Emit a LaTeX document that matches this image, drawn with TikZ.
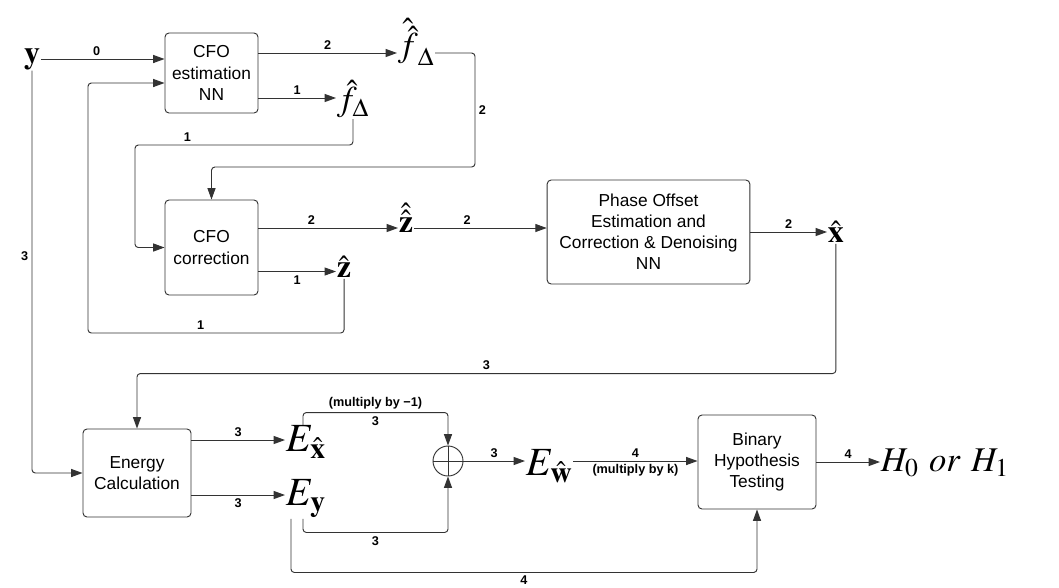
\documentclass[tikz,border=0pt]{standalone}
\usepackage{mathptmx}
\usepackage{fontspec}
\setsansfont{Liberation Sans}
\usetikzlibrary{arrows.meta,calc}

\tikzstyle{block}=[draw=black!80,line width=0.7pt,rounded corners=3pt,align=center,inner sep=2pt,font=\sffamily\fontsize{13}{15.8}\selectfont]
\tikzstyle{sym}=[inner sep=0.5pt,font=\fontsize{24}{28}\selectfont]
\tikzstyle{fsym}=[inner sep=0.5pt,font=\fontsize{26}{30}\selectfont]
\tikzstyle{bigsym}=[inner sep=0.5pt,font=\fontsize{30}{34}\selectfont]
\tikzstyle{lbl}=[inner sep=2.5pt,font=\sffamily\bfseries\fontsize{9.5}{11}\selectfont]
\tikzstyle{link}=[draw=black!80,line width=0.7pt,rounded corners=2.5pt]
\tikzstyle{arr}=[link,-{Triangle[length=8.5pt,width=6pt]}]

\begin{document}
\begin{tikzpicture}[x=0.75pt,y=-0.75pt]
    \useasboundingbox (0,0) rectangle (1059,587);

    % blocks
    \node[block,minimum width=69.75pt,minimum height=60pt] (est) at (211.5,73) {CFO\\estimation\\NN};
    \node[block,minimum width=69.75pt,minimum height=71.25pt] (corr) at (211.5,247.5) {CFO\\correction};
    \node[block,minimum width=152pt,minimum height=78pt] (phase) at (648.5,232) {Phase Offset\\Estimation and\\Correction \& Denoising\\NN};
    \node[block,minimum width=81pt,minimum height=66pt] (energy) at (137,473) {Energy\\Calculation};
    \node[block,minimum width=88.5pt,minimum height=70.5pt] (binary) at (757,462) {Binary\\Hypothesis\\Testing};
    \node[draw=black!80,line width=0.7pt,circle,minimum size=22.5pt,inner sep=0pt] (sum) at (448,461) {};
    \draw[link] (sum.north) -- (sum.south) (sum.west) -- (sum.east);

    % signals
    \node[sym] (y) at (32,59) {$\mathbf{y}$};
    \node[fsym,anchor=west] (ffh) at (397,42) {$\hat{\hat{f}}_{\Delta}$};
    \node[fsym,anchor=west] (fh) at (336,99) {$\hat{f}_{\Delta}$};
    \node[sym,anchor=west] (zzh) at (398,218) {$\hat{\hat{\mathbf{z}}}$};
    \node[sym,anchor=west] (zh) at (336,267) {$\hat{\mathbf{z}}$};
    \node[sym,anchor=west] (xh) at (827,232) {$\hat{\mathbf{x}}$};
    \node[bigsym,anchor=west] (Exh) at (285,442) {$E_{\hat{\mathbf{x}}}$};
    \node[bigsym,anchor=west] (Ey) at (285,499) {$E_{\mathbf{y}}$};
    \node[bigsym,anchor=west] (Ewh) at (525,466) {$E_{\hat{\mathbf{w}}}$};
    \node[sym,anchor=west,font=\fontsize{26}{30}\selectfont] (H) at (880,463) {$H_0\ \mathit{or}\ H_1$};

    % into CFO estimation
    \draw[arr] (y.east) -- node[lbl,above,pos=0.45]{0} (y.east -| est.west);
    \draw[arr] (zh.south) |- node[lbl,above,pos=0.78]{1} (88,333) |- ($(est.west)+(0,10)$);

    % CFO estimation outputs
    \draw[arr] ($(est.east)+(0,-20)$) coordinate (e2) -- node[lbl,above]{2} (e2 -| ffh.west);
    \draw[arr] ($(est.east)+(0,25)$) coordinate (e1) -- node[lbl,above]{1} (e1 -| fh.west);
    \draw[arr] (e2 -| ffh.east) -| node[lbl,right,pos=0.75]{2} (475,167) -| (corr.north);
    \draw[arr] (fh.south) |- node[lbl,above,pos=0.88]{1} (135,145) |- (corr.west);

    % CFO correction outputs
    \draw[arr] ($(corr.east)+(0,-19.5)$) coordinate (c2) -- node[lbl,above,pos=0.38]{2} (c2 -| zzh.west);
    \draw[arr] (c2 -| zzh.east) -- node[lbl,above,pos=0.4]{2} (c2 -| phase.west);
    \draw[arr] ($(corr.east)+(0,24)$) coordinate (c1) -- node[lbl,below]{1} (c1 -| zh.west);

    % phase offset output
    \draw[arr] (phase.east) -- node[lbl,above]{2} (phase.east -| xh.west);
    \draw[arr] (xh.south) |- node[lbl,above,pos=0.75]{3} ($(energy.north)+(0,-55)$) -- (energy.north);
    \draw[arr] (y.south) |- node[lbl,left,pos=0.23]{3} (energy.west);

    % energy outputs
    \draw[arr] ($(energy.east)+(0,-33)$) coordinate (g1) -- node[lbl,above]{3} (g1 -| Exh.west);
    \draw[arr] ($(energy.east)+(0,22)$) coordinate (g2) -- node[lbl,below]{3} (g2 -| Ey.west);

    % adder
    \draw[arr] ($(Exh.north west)+(18,0)$) |- node[lbl,above,pos=0.75]{(multiply by −1)} node[lbl,below,pos=0.75]{3} ($(sum.north)+(0,-33)$) -- (sum.north);
    \draw[arr] ($(Ey.south west)+(18,0)$) |- node[lbl,below,pos=0.75]{3} ($(sum.south)+(0,56)$) -- (sum.south);
    \draw[arr] ($(Ey.south west)+(6,0)$) |- node[lbl,below,pos=0.75]{4} ($(binary.south)+(0,63)$) -- (binary.south);

    % decision
    \draw[arr] (sum.east) -- node[lbl,above]{3} (sum.east -| Ewh.west);
    \draw[arr] (sum.east -| Ewh.east) -- node[lbl,above]{4} node[lbl,below]{(multiply by k)} (sum.east -| binary.west);
    \draw[arr] (binary.east) -- node[lbl,above]{4} (binary.east -| H.west);
\end{tikzpicture}
\end{document}
